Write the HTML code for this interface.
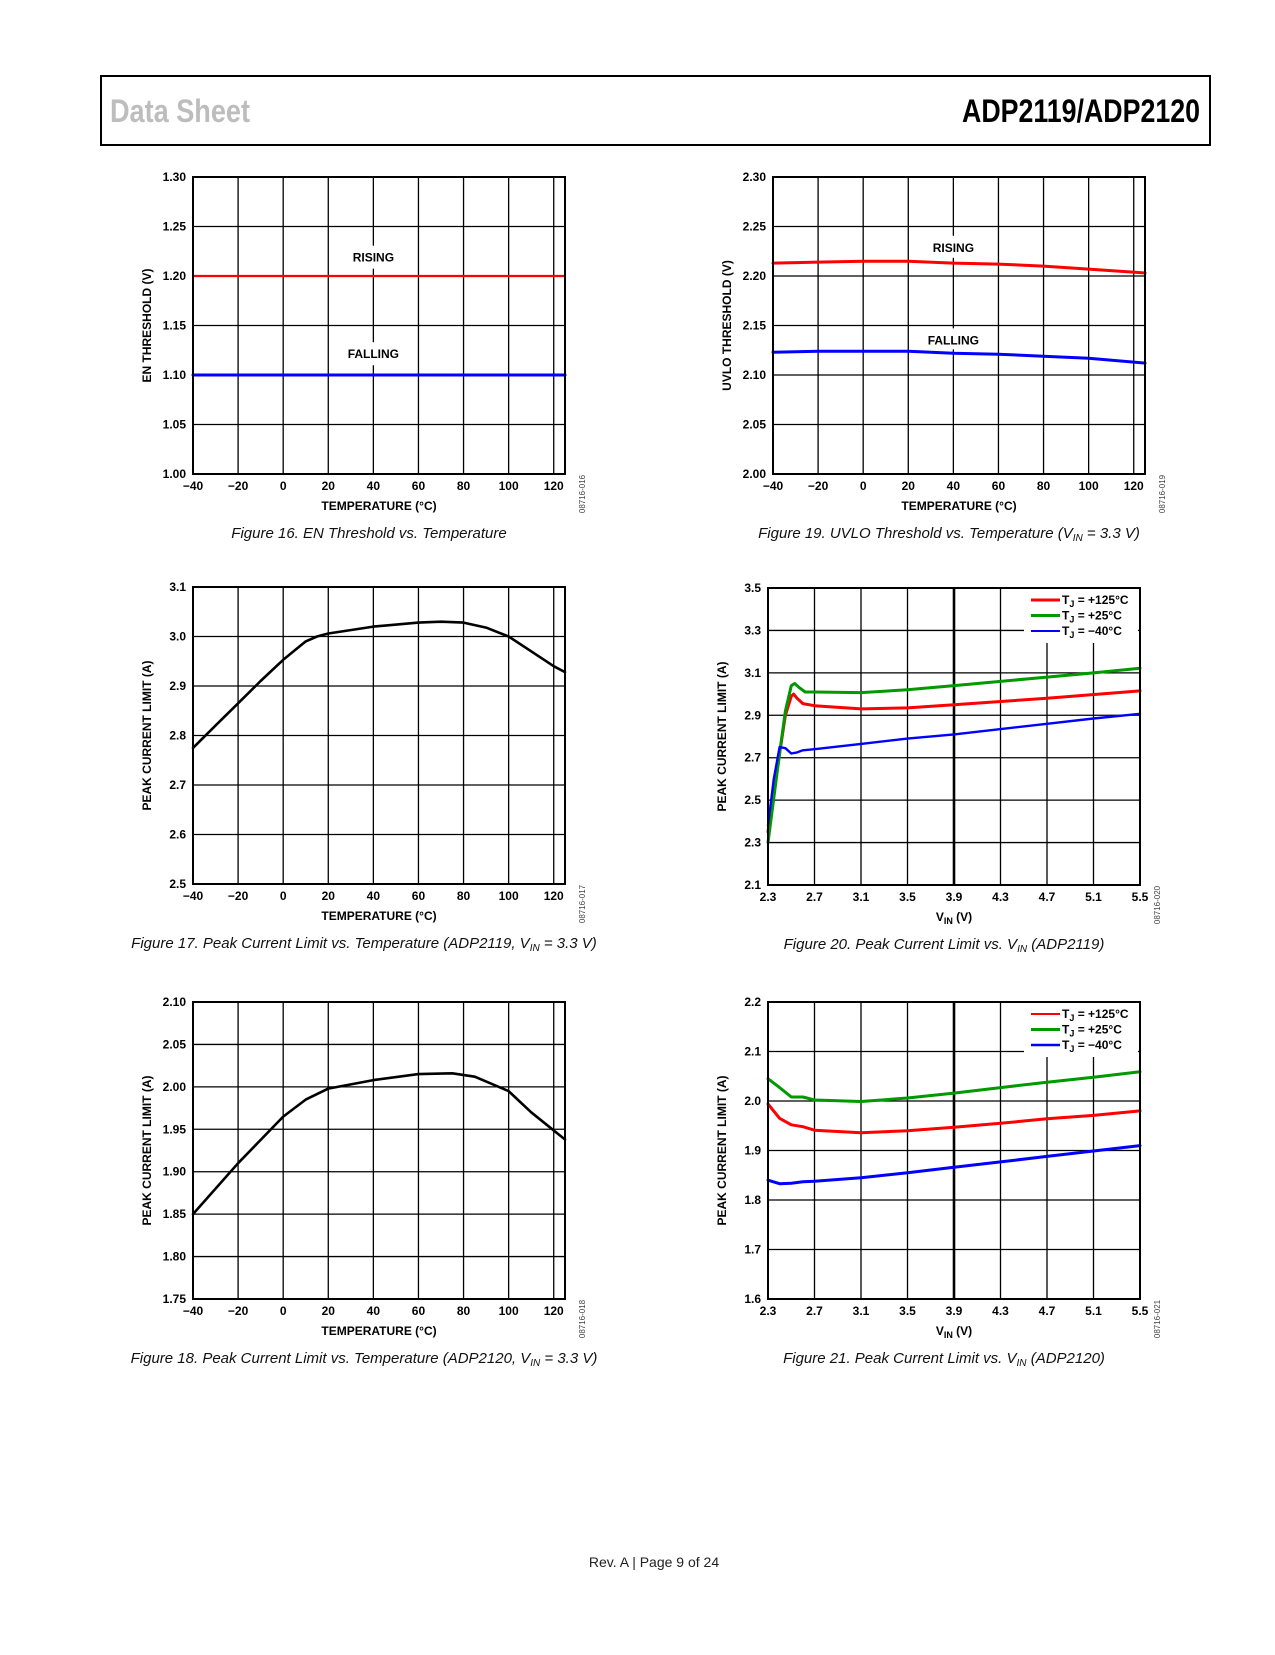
<!DOCTYPE html>
<html><head><meta charset="utf-8">
<style>
body{margin:0;background:#fff;width:1275px;height:1650px;overflow:hidden;font-family:"Liberation Sans",sans-serif;}
svg text{font-family:"Liberation Sans",sans-serif;}
</style></head>
<body>
<svg id="page" width="1275" height="1650" viewBox="0 0 1275 1650" xmlns="http://www.w3.org/2000/svg">
  <rect x="101" y="76" width="1109" height="69" fill="none" stroke="#000" stroke-width="2"/>
  <text x="110" y="122" font-size="32" font-weight="bold" fill="#bdbdbd" textLength="140" lengthAdjust="spacingAndGlyphs">Data Sheet</text>
  <text x="1200" y="122" font-size="32" font-weight="bold" fill="#000" text-anchor="end" textLength="238" lengthAdjust="spacingAndGlyphs">ADP2119/ADP2120</text>
  <text x="654" y="1567" font-size="14" text-anchor="middle" fill="#222">Rev. A | Page 9 of 24</text>
  <g id="charts"></g>
</svg>
<script>
// Figure 16
const f16Temps = [-40, 125];
const f16Rising = [1.20, 1.20];
const f16Falling = [1.10, 1.10];
const f16YTicks = ["1.00","1.05","1.10","1.15","1.20","1.25","1.30"];
// Figure 19
const f19Temps = [-40, -20, 0, 20, 40, 60, 80, 100, 125];
const f19Rising = [2.213, 2.214, 2.215, 2.215, 2.213, 2.212, 2.210, 2.207, 2.203];
const f19Falling = [2.123, 2.124, 2.124, 2.124, 2.122, 2.121, 2.119, 2.117, 2.112];
const f19YTicks = ["2.00","2.05","2.10","2.15","2.20","2.25","2.30"];
// Figure 17
const f17Temps = [-40, -30, -20, -10, 0, 10, 15, 20, 40, 60, 70, 80, 90, 100, 110, 120, 125];
const f17Peak = [2.775, 2.82, 2.865, 2.91, 2.953, 2.99, 3.0, 3.006, 3.02, 3.028, 3.03, 3.028, 3.018, 3.0, 2.97, 2.94, 2.928];
const f17YTicks = ["2.5","2.6","2.7","2.8","2.9","3.0","3.1"];
// Figure 18
const f18Temps = [-40, -20, 0, 10, 20, 40, 60, 75, 85, 100, 110, 125];
const f18Peak = [1.85, 1.91, 1.965, 1.985, 1.998, 2.008, 2.015, 2.016, 2.012, 1.995, 1.97, 1.938];
const f18YTicks = ["1.75","1.80","1.85","1.90","1.95","2.00","2.05","2.10"];
// Temperature ticks
const tempTicks = [-40, -20, 0, 20, 40, 60, 80, 100, 120];
const tempTickLabels = ["\u221240","\u221220","0","20","40","60","80","100","120"];
// Figure 20
const f20Vin125 = [2.3, 2.4, 2.45, 2.5, 2.52, 2.55, 2.6, 2.7, 3.1, 3.5, 3.9, 4.7, 5.5];
const f20Red = [2.35, 2.72, 2.9, 2.99, 3.0, 2.98, 2.955, 2.945, 2.93, 2.935, 2.95, 2.98, 3.015];
const f20Vin25 = [2.3, 2.4, 2.45, 2.5, 2.53, 2.57, 2.62, 2.7, 3.1, 3.5, 3.9, 4.7, 5.1, 5.5];
const f20Green = [2.3, 2.72, 2.92, 3.04, 3.05, 3.03, 3.01, 3.01, 3.007, 3.02, 3.04, 3.08, 3.10, 3.122];
const f20VinM40 = [2.3, 2.35, 2.4, 2.45, 2.5, 2.55, 2.6, 2.7, 3.1, 3.5, 3.9, 4.7, 5.1, 5.5];
const f20Blue = [2.38, 2.6, 2.75, 2.745, 2.72, 2.725, 2.735, 2.74, 2.765, 2.79, 2.81, 2.86, 2.885, 2.907];
const f20YTicks = ["2.1","2.3","2.5","2.7","2.9","3.1","3.3","3.5"];
// Figure 21
const f21Vin = [2.3, 2.4, 2.5, 2.6, 2.7, 3.1, 3.5, 3.9, 4.3, 4.7, 5.1, 5.5];
const f21Green = [2.045, 2.027, 2.008, 2.008, 2.002, 1.999, 2.006, 2.016, 2.027, 2.038, 2.048, 2.059];
const f21Red = [1.994, 1.965, 1.952, 1.948, 1.941, 1.936, 1.94, 1.947, 1.955, 1.964, 1.971, 1.98];
const f21Blue = [1.84, 1.833, 1.834, 1.837, 1.838, 1.845, 1.855, 1.866, 1.877, 1.888, 1.899, 1.91];
const f21YTicks = ["1.6","1.7","1.8","1.9","2.0","2.1","2.2"];
// VIN ticks
const vinTicks = [2.3, 2.7, 3.1, 3.5, 3.9, 4.3, 4.7, 5.1, 5.5];
const vinTickLabels = ["2.3","2.7","3.1","3.5","3.9","4.3","4.7","5.1","5.5"];

const NS = "http://www.w3.org/2000/svg";
const root = document.getElementById('charts');
function mk(tag, attrs, parent){
  const e = document.createElementNS(NS, tag);
  for (const k in attrs) e.setAttribute(k, attrs[k]);
  (parent||root).appendChild(e);
  return e;
}
function line(p, x1,y1,x2,y2,w){ return mk('line',{x1:x1,y1:y1,x2:x2,y2:y2,stroke:'#000','stroke-width':w||1.3},p); }

function chart(o){
  const g = mk('g',{});
  
  
  const L=o.x, T=o.y, W=372, H=297;
  const sx = v => L + (v - o.xmin)/(o.xmax - o.xmin)*W;
  const sy = v => T + H - (v - o.ymin)/(o.ymax - o.ymin)*H;
  // horizontal grid + y labels
  o.yTicks.forEach(t=>{
    const v=parseFloat(t), y=sy(v);
    const gl = line(g, L, y, L+W, y, 1.3);
    
    
    const tx = mk('text',{x:L-7,y:y+4,'font-size':12,'font-weight':'bold','text-anchor':'end'},g);
    tx.textContent=t;
    
    
  });
  o.xTicks.forEach((v,i)=>{
    const x=sx(v);
    const gl = line(g, x, T, x, T+H, (o.thickX===v)?2.6:1.3);
    
    
    const tx = mk('text',{x:x,y:T+H+16,'font-size':12,'font-weight':'bold','text-anchor':'middle'},g);
    tx.textContent=o.xLabels[i];
    
    
  });
  // legend white box
  if (o.legend){
    mk('rect',{x:L+256,y:T+1,width:W-258,height:o.legendH,fill:'#fff'},g);
  }
  // annotation labels with white background
  (o.labels||[]).forEach(lb=>{
    const x=sx(lb.x), y=sy(lb.y);
    mk('rect',{x:x-32,y:y-lb.above,width:64,height:lb.above+lb.below,fill:'#fff'},g);
    const tx = mk('text',{x:x,y:y+4,'font-size':12,'font-weight':'bold','text-anchor':'middle'},g);
    tx.textContent=lb.text;
    
    
  });
  // series
  o.series.forEach(s=>{
    const pts = s.xs.map((v,i)=>sx(v).toFixed(1)+','+sy(s.ys[i]).toFixed(1)).join(' ');
    const pl = mk('polyline',{points:pts,fill:'none',stroke:s.color,'stroke-width':s.w||3,'stroke-linejoin':'round','stroke-linecap':'round'},g);
    
    
  });
  // border
  const br = mk('rect',{x:L,y:T,width:W,height:H,fill:'none',stroke:'#000','stroke-width':2},g);
  
  
  // legend entries
  if (o.legend){
    o.legend.forEach((le,i)=>{
      const y = T+12+i*15.5;
      mk('line',{x1:L+263,y1:y,x2:L+292,y2:y,stroke:le.color,'stroke-width':le.w||2.5},g);
      const tx = mk('text',{x:L+294,y:y+4,'font-size':12,'font-weight':'bold'},g);
      
      
      const a = document.createElementNS(NS,'tspan'); a.textContent='T'; tx.appendChild(a);
      const b = document.createElementNS(NS,'tspan'); b.setAttribute('font-size','9'); b.setAttribute('dy','3'); b.textContent='J'; tx.appendChild(b);
      const c = document.createElementNS(NS,'tspan'); c.setAttribute('dy','-3'); c.textContent=' = '+le.text; tx.appendChild(c);
    });
  }
  // axis titles
  const xt = mk('text',{x:L+W/2,y:T+H+36,'font-size':12,'font-weight':'bold','text-anchor':'middle'},g);
  
  
  if (o.vin){
    const a=document.createElementNS(NS,'tspan'); a.textContent='V'; xt.appendChild(a);
    const b=document.createElementNS(NS,'tspan'); b.setAttribute('font-size','9'); b.setAttribute('dy','3'); b.textContent='IN'; xt.appendChild(b);
    const c=document.createElementNS(NS,'tspan'); c.setAttribute('dy','-3'); c.textContent=' (V)'; xt.appendChild(c);
  } else xt.textContent='TEMPERATURE (\u00B0C)';
  const yt = mk('text',{x:0,y:0,'font-size':12,'font-weight':'bold','text-anchor':'middle',transform:`translate(${L-42},${T+H/2}) rotate(-90)`},g);
  yt.textContent=o.yTitle;
  
  
  // side code
  const sc = mk('text',{x:0,y:0,'font-size':8,'fill':'#444','text-anchor':'middle',transform:`translate(${L+W+20},${T+H+20}) rotate(-90)`},g);
  sc.textContent=o.code;
  
  
  // caption
  const cp = mk('text',{x:o.capX||(L+W/2-10),y:T+H+64,'font-size':15,'font-style':'italic','text-anchor':'middle',fill:'#111'},g);
  
  
  o.caption.forEach(part=>{
    const t=document.createElementNS(NS,'tspan');
    if(part.sub){t.setAttribute('font-size','10');t.setAttribute('dy','3');}
    if(part.up){t.setAttribute('dy','-3');}
    t.textContent=part.t; cp.appendChild(t);
  });
}

chart({name:'figure-16-en-threshold-chart',x:193,y:177,xmin:-40,xmax:125,ymin:1.0,ymax:1.3,
  xTicks:tempTicks,xLabels:tempTickLabels,yTicks:f16YTicks,yTitle:'EN THRESHOLD (V)',code:'08716-016',
  labels:[{x:40,y:1.2185,text:'RISING',above:12,below:11},{x:40,y:1.121,text:'FALLING',above:12,below:11}],
  series:[{name:'rising-line',xs:f16Temps,ys:f16Rising,color:'#ff0000',w:2.2},{name:'falling-line',xs:f16Temps,ys:f16Falling,color:'#0000ff',w:3}],
  caption:[{t:'Figure 16. EN Threshold vs. Temperature'}]});

chart({name:'figure-19-uvlo-threshold-chart',x:773,y:177,xmin:-40,xmax:125,ymin:2.0,ymax:2.3,
  xTicks:tempTicks,xLabels:tempTickLabels,yTicks:f19YTicks,yTitle:'UVLO THRESHOLD (V)',code:'08716-019',
  labels:[{x:40,y:2.2285,text:'RISING',above:12,below:10},{x:40,y:2.135,text:'FALLING',above:12,below:9}],
  series:[{name:'rising-line',xs:f19Temps,ys:f19Rising,color:'#ff0000'},{name:'falling-line',xs:f19Temps,ys:f19Falling,color:'#0000ff'}],
  caption:[{t:'Figure 19. UVLO Threshold vs. Temperature (V'},{t:'IN',sub:1},{t:' = 3.3 V)',up:1}]});

chart({name:'figure-17-peak-current-adp2119-temp-chart',x:193,y:587,xmin:-40,xmax:125,ymin:2.5,ymax:3.1,
  xTicks:tempTicks,xLabels:tempTickLabels,yTicks:f17YTicks,yTitle:'PEAK CURRENT LIMIT (A)',code:'08716-017',
  series:[{name:'peak-current-line',xs:f17Temps,ys:f17Peak,color:'#000',w:2.6}],capX:364,
  caption:[{t:'Figure 17. Peak Current Limit vs. Temperature (ADP2119, V'},{t:'IN',sub:1},{t:' = 3.3 V)',up:1}]});

chart({name:'figure-20-peak-current-adp2119-vin-chart',x:768,y:588,xmin:2.3,xmax:5.5,ymin:2.1,ymax:3.5,vin:true,thickX:3.9,
  xTicks:vinTicks,xLabels:vinTickLabels,yTicks:f20YTicks,yTitle:'PEAK CURRENT LIMIT (A)',code:'08716-020',legendH:54,
  legend:[{color:'#ff0000',text:'+125\u00B0C',w:3},{color:'#009900',text:'+25\u00B0C',w:3},{color:'#0000ff',text:'\u221240\u00B0C',w:2}],
  series:[{name:'tj-125-line',xs:f20Vin125,ys:f20Red,color:'#ff0000'},{name:'tj-25-line',xs:f20Vin25,ys:f20Green,color:'#009900'},{name:'tj-minus40-line',xs:f20VinM40,ys:f20Blue,color:'#0000ff',w:2.4}],
  caption:[{t:'Figure 20. Peak Current Limit vs. V'},{t:'IN',sub:1},{t:' (ADP2119)',up:1}]});

chart({name:'figure-18-peak-current-adp2120-temp-chart',x:193,y:1002,xmin:-40,xmax:125,ymin:1.75,ymax:2.10,
  xTicks:tempTicks,xLabels:tempTickLabels,yTicks:f18YTicks,yTitle:'PEAK CURRENT LIMIT (A)',code:'08716-018',
  series:[{name:'peak-current-line',xs:f18Temps,ys:f18Peak,color:'#000',w:2.6}],capX:364,
  caption:[{t:'Figure 18. Peak Current Limit vs. Temperature (ADP2120, V'},{t:'IN',sub:1},{t:' = 3.3 V)',up:1}]});

chart({name:'figure-21-peak-current-adp2120-vin-chart',x:768,y:1002,xmin:2.3,xmax:5.5,ymin:1.6,ymax:2.2,vin:true,thickX:3.9,
  xTicks:vinTicks,xLabels:vinTickLabels,yTicks:f21YTicks,yTitle:'PEAK CURRENT LIMIT (A)',code:'08716-021',legendH:54,
  legend:[{color:'#ff0000',text:'+125\u00B0C',w:2},{color:'#009900',text:'+25\u00B0C',w:3},{color:'#0000ff',text:'\u221240\u00B0C',w:2.4}],
  series:[{name:'tj-125-line',xs:f21Vin,ys:f21Red,color:'#ff0000'},{name:'tj-25-line',xs:f21Vin,ys:f21Green,color:'#009900'},{name:'tj-minus40-line',xs:f21Vin,ys:f21Blue,color:'#0000ff'}],
  caption:[{t:'Figure 21. Peak Current Limit vs. V'},{t:'IN',sub:1},{t:' (ADP2120)',up:1}]});
</script>
</body></html>
